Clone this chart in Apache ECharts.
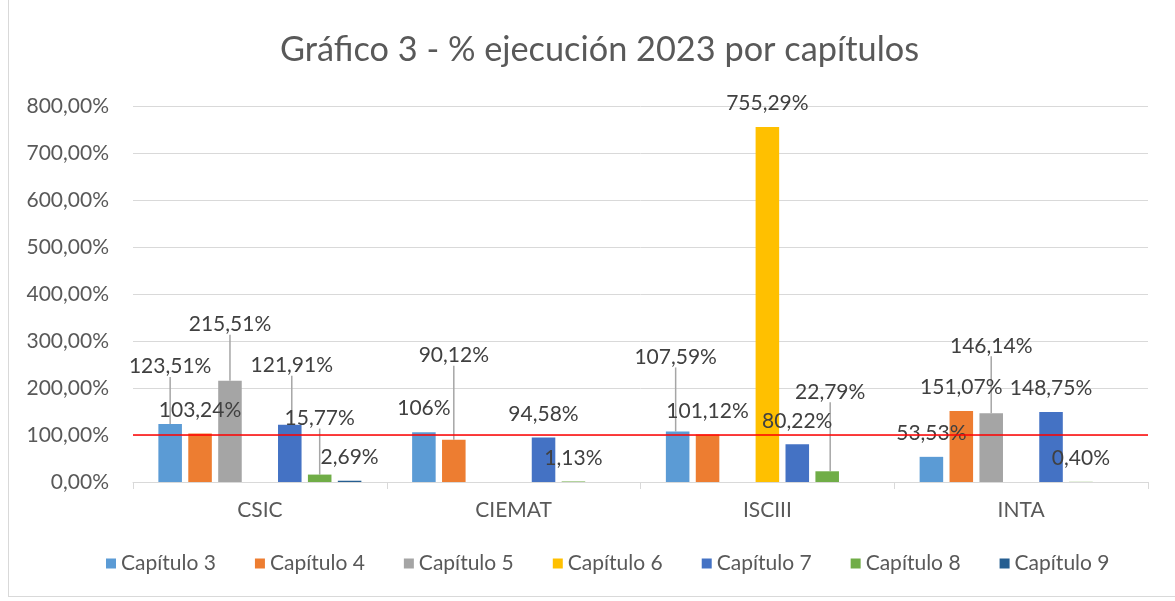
<!DOCTYPE html>
<html>
<head>
<meta charset="utf-8">
<script src="https://cdn.jsdelivr.net/npm/echarts@6/dist/echarts.min.js"></script>
<style>
  html, body { margin: 0; padding: 0; background: #fff; }
  #frame { position: absolute; left: 8px; top: -1px; width: 1180px; height: 598px; border: 1px solid #d9d9d9; box-sizing: border-box; }
  #chart { position: absolute; left: 0; top: 0; width: 1175px; height: 601px; }
</style>
</head>
<body>
<div id="frame"></div>
<div id="chart"></div>
<script>
// data
const categories = ['CSIC', 'CIEMAT', 'ISCIII', 'INTA'];
const seriesNames = ['Capítulo 3', 'Capítulo 4', 'Capítulo 5', 'Capítulo 6', 'Capítulo 7', 'Capítulo 8', 'Capítulo 9'];
const cap3 = [123.51, 106, 107.59, 53.53];
const cap4 = [103.24, 90.12, 101.12, 151.07];
const cap5 = [215.51, null, null, 146.14];
const cap6 = [null, null, 755.29, null];
const cap7 = [121.91, 94.58, 80.22, 148.75];
const cap8 = [15.77, 1.13, 22.79, 0.40];
const cap9 = [2.69, null, null, null];
const targetLevel = 100;
const yMin = 0;
const yMax = 800;
const yStep = 100;

const seriesValues = [cap3, cap4, cap5, cap6, cap7, cap8, cap9];
const colors = ['#5B9BD5', '#ED7D31', '#A5A5A5', '#FFC000', '#4472C4', '#70AD47', '#255E91'];

// labels that were dragged up in the original, with a leader line: [series, category, dx, dy]
const movedLabels = [
    [0, 0, 0, -34], [2, 0, 0, -33], [4, 0, 2, -36], [5, 0, 0, -33],
    [1, 1, 0, -61],
    [0, 2, -2, -51], [5, 2, 3, -56],
    [2, 3, 0, -44]
];

const FONT = 'Lato, "Liberation Sans", sans-serif';
const TEXT = '#595959';
const LABEL_DIST = 13;

function pct(v) {
    if (Number.isInteger(v)) return v + '%';
    return v.toFixed(2).replace('.', ',') + '%';
}

function findMoved(si, ci) {
    return movedLabels.find(e => e[0] === si && e[1] === ci);
}

const chart = echarts.init(document.getElementById('chart'));

const option = {
    backgroundColor: 'transparent',
    color: colors,
    textStyle: { fontFamily: FONT },
    title: {
        text: 'Gráfico 3 - % ejecución 2023 por capítulos',
        left: 275,
        top: 28,
        textStyle: { fontFamily: FONT, fontSize: 34.3, fontWeight: 'normal', color: TEXT }
    },
    legend: {
        bottom: 22,
        left: 101,
        itemWidth: 10,
        itemHeight: 10,
        itemGap: 39,
        icon: 'rect',
        textStyle: { fontFamily: FONT, fontSize: 21, color: TEXT },
        data: seriesNames
    },
    grid: { left: 133, right: 27, top: 106, bottom: 119 },
    xAxis: {
        type: 'category',
        data: categories,
        axisLine: { lineStyle: { color: '#d9d9d9' } },
        axisTick: { show: true, length: 7, lineStyle: { color: '#d9d9d9' } },
        axisLabel: { color: TEXT, fontFamily: FONT, fontSize: 21, margin: 18 }
    },
    yAxis: {
        type: 'value',
        min: yMin,
        max: yMax,
        interval: yStep,
        axisLine: { show: false },
        axisTick: { show: false },
        splitLine: { lineStyle: { color: '#d9d9d9' } },
        axisLabel: { color: TEXT, fontFamily: FONT, fontSize: 21, margin: 24,
            formatter: v => v.toFixed(2).replace('.', ',') + '%' }
    },
    series: seriesNames.map((name, si) => ({
        name: name,
        type: 'bar',
        barCategoryGap: '20%',
        barGap: '27%',
        data: seriesValues[si].map((v, ci) => findMoved(si, ci)
            ? { value: v, labelLine: { show: true } }
            : v),
        label: {
            show: true,
            position: 'top',
            distance: LABEL_DIST,
            color: '#404040',
            fontFamily: FONT,
            fontSize: 21,
            formatter: p => p.value == null ? '' : pct(p.value)
        },
        labelLine: { show: false, lineStyle: { color: '#a6a6a6', width: 1.5 } },
        labelLayout: function (params) {
            const m = findMoved(si, params.dataIndex);
            if (!m) return {};
            return {
                x: params.rect.x + params.rect.width / 2 + m[2],
                y: params.rect.y - LABEL_DIST + m[3],
                align: 'center',
                verticalAlign: 'bottom'
            };
        },
        markLine: si === 0 ? {
            silent: true,
            symbol: 'none',
            label: { show: false },
            lineStyle: { color: '#FF0000', width: 1.5, type: 'solid' },
            data: [{ yAxis: targetLevel }]
        } : undefined
    }))
};

chart.setOption(option);
window.addEventListener('resize', () => chart.resize());
</script>
</body>
</html>
